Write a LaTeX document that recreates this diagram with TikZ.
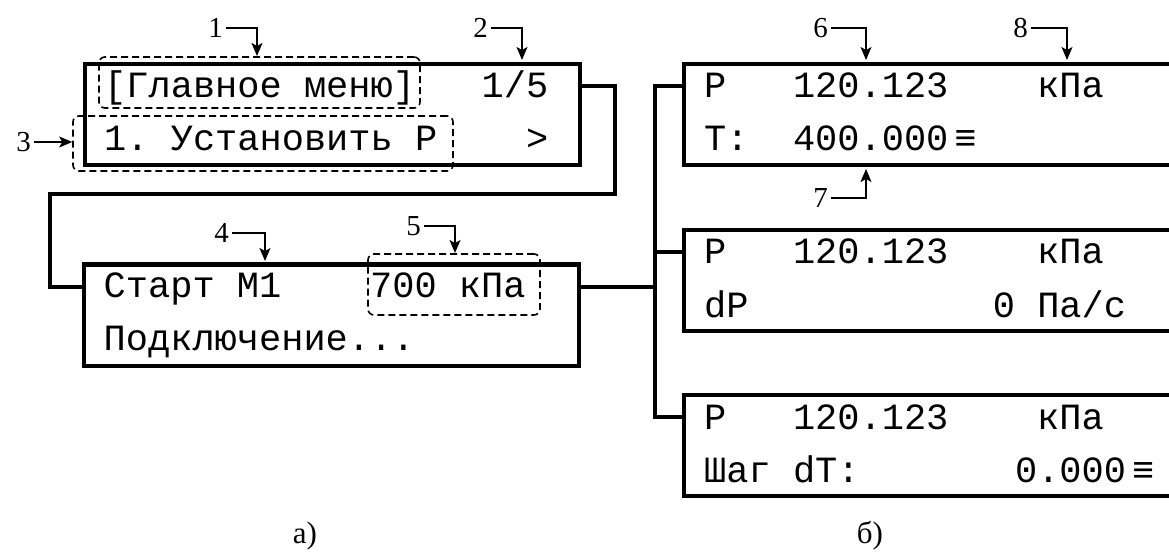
\documentclass[tikz,border=0pt]{standalone}
\usepackage{fontspec}
\setmainfont{Liberation Serif}
\newfontfamily\lcdfont{Liberation Mono}
\usetikzlibrary{arrows.meta}

\tikzset{
  screen/.style={draw, line width=4pt, minimum width=495, minimum height=101, inner sep=0pt},
  field/.style={draw, dash pattern=on 7pt off 4pt, line width=1.6pt, rounded corners=6pt, inner sep=0pt},
  lcd/.style={anchor=base west, inner sep=0pt, font=\lcdfont\fontsize{37}{40}\selectfont},
  num/.style={anchor=east, inner sep=3pt, font=\fontsize{29}{29}\selectfont},
  caption/.style={anchor=base, inner sep=0pt, font=\fontsize{31}{31}\selectfont},
  callout/.style={line width=1.3pt, -{Stealth[length=13pt,width=11pt,inset=3pt]}},
  wire/.style={line width=4pt},
}

\begin{document}
\begin{tikzpicture}[x=1pt, y=-1pt]
  \useasboundingbox (0,0) rectangle (1169,553);
  \clip (0,0) rectangle (1169,553);

  % a) menu screens
  \node[screen] (menu) at (332.5,114.5) {};
  \node[lcd] (menuA) at ([xshift=21pt,yshift=-36pt]menu.north west) {[Главное~меню]~~~1/5};
  \node[lcd] (menuB) at ([xshift=21pt,yshift=-89pt]menu.north west) {1.~Установить~Р~~~~>};

  \node[screen] (start) at (331,315) {};
  \node[lcd] (startA) at ([xshift=22pt,yshift=-35pt]start.north west) {Старт~М1~~~~700~кПа};
  \node[lcd] (startB) at ([xshift=22pt,yshift=-88pt]start.north west) {Подключение...};

  % dashed fields
  \node[field, minimum width=321, minimum height=51] (title) at (259.5,82.5) {};
  \node[field, minimum width=380, minimum height=55] (item) at (263,143.5) {};
  \node[field, minimum width=172, minimum height=61] (setp) at (454,284.5) {};

  % b) measurement screens
  \node[screen] (lcdA) at (931.5,114.5) {};
  \node[lcd] (lcdA1) at ([xshift=22pt,yshift=-36pt]lcdA.north west) {P~~~120.123~~~~кПа};
  \node[lcd] (lcdA2) at ([xshift=22pt,yshift=-89pt]lcdA.north west) {T:~~400.000\kern6pt≡};

  \node[screen] (lcdB) at (931.5,280.5) {};
  \node[lcd] (lcdB1) at ([xshift=22pt,yshift=-36pt]lcdB.north west) {P~~~120.123~~~~кПа};
  \node[lcd] (lcdB2) at ([xshift=22pt,yshift=-89pt]lcdB.north west) {dP~~~~~~~~~~~0~Па/с};

  \node[screen] (lcdC) at (931.5,445.5) {};
  \node[lcd] (lcdC1) at ([xshift=22pt,yshift=-36pt]lcdC.north west) {P~~~120.123~~~~кПа};
  \node[lcd] (lcdC2) at ([xshift=22pt,yshift=-89pt]lcdC.north west) {Шаг~dT:~~~~~~~0.000\kern6pt≡};

  % wiring
  \draw[wire] ([yshift=-24pt]menu.north east) -- ++(33,0) |- (50,194) |- ([yshift=-24pt]start.north west);
  \draw[wire] ([yshift=-24pt]start.north east) -- ++(74,0) coordinate (hub);
  \draw[wire] ([yshift=-24pt]lcdA.north west) -| (hub) |- ([yshift=-24pt]lcdC.north west);
  \coordinate (rowB) at ([yshift=-24pt]lcdB.north west);
  \draw[wire] (hub |- rowB) -- (rowB);

  % callouts
  \node[num] (n1) at (226,28) {1};
  \node[num] (n2) at (491,28) {2};
  \node[num] (n3) at (34,142) {3};
  \node[num] (n4) at (232,233) {4};
  \node[num] (n5) at (424,226) {5};
  \node[num] (n6) at (831,28) {6};
  \node[num] (n7) at (831,198) {7};
  \node[num] (n8) at (1031,28) {8};
  \coordinate (t1) at (257,56);
  \coordinate (t2) at (522,60);
  \coordinate (t4) at (265,261);
  \coordinate (t5) at (455,253);
  \coordinate (t6) at (866,60);
  \coordinate (t7) at (866,169);
  \coordinate (t8) at (1067,60);
  \draw[callout] (n1.east) -| (t1);
  \draw[callout] (n2.east) -| (t2);
  \draw[callout] (n3.east) -- (n3.east -| item.west);
  \draw[callout] (n4.east) -| (t4);
  \draw[callout] (n5.east) -| (t5);
  \draw[callout] (n6.east) -| (t6);
  \draw[callout] (n7.east) -| (t7);
  \draw[callout] (n8.east) -| (t8);

  \node[caption] (capa) at (305,543) {а)};
  \node[caption] (capb) at (870,543) {б)};
\end{tikzpicture}
\end{document}
